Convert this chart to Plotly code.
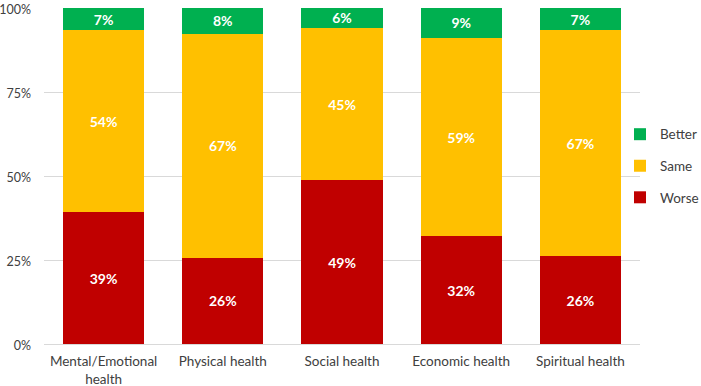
import plotly.graph_objects as go

categories = ["Mental/Emotional<br>health", "Physical health", "Social health", "Economic health", "Spiritual health"]
worse = [39.2, 25.6, 48.7, 32.0, 26.1]
same = [54.2, 66.7, 45.4, 59.1, 67.3]
better = [6.6, 7.7, 5.9, 8.9, 6.6]
y_ticks = [0, 25, 50, 75, 100]
y_tick_labels = ["0%", "25%", "50%", "75%", "100%"]

FONT = "Lato, 'Open Sans', sans-serif"

fig = go.Figure()
for name, vals, color, rank in [("Worse", worse, "#C00000", 3), ("Same", same, "#FFC000", 2), ("Better", better, "#00B050", 1)]:
    fig.add_trace(go.Bar(
        x=categories, y=vals, name=name, legendgroup=name, legendrank=rank,
        marker=dict(color=color, line=dict(width=0)),
        texttemplate="%{y:.0f}%", textposition="inside", insidetextanchor="middle",
        textangle=0, constraintext="none",
        textfont=dict(color="white", size=14, family=FONT, weight="bold"),
        hoverinfo="skip",
    ))

fig.update_layout(
    barmode="stack", bargap=0.32,
    width=701, height=386,
    margin=dict(l=44, r=61, t=8, b=42, autoexpand=False),
    paper_bgcolor="white", plot_bgcolor="white",
    font=dict(family=FONT, size=13, color="#404040"),
    legend=dict(x=0.9664, xanchor="left", y=0.53, yanchor="middle",
                traceorder="grouped", tracegroupgap=11, bgcolor="rgba(0,0,0,0)",
                font=dict(size=13.5, color="#404040"), itemwidth=30),
    showlegend=True,
)
fig.update_yaxes(range=[0, 100], tickvals=y_ticks, ticktext=y_tick_labels,
                 showgrid=True, gridcolor="#d9d9d9", gridwidth=1, zeroline=False,
                 showline=False, ticks="", ticklabelstandoff=12, automargin=False,
                 ticklabeloverflow="allow", ticklabelshift=2,
                 tickfont=dict(size=12.5, color="#404040"))
fig.update_xaxes(showline=True, linecolor="#d9d9d9", linewidth=1, ticks="", automargin=False,
                 ticklabelstandoff=5, ticklabeloverflow="allow",
                 tickfont=dict(size=13.5, color="#404040"))

fig.write_html("out.html", config={"displayModeBar": False},
               post_script="document.body.style.margin='0';")
